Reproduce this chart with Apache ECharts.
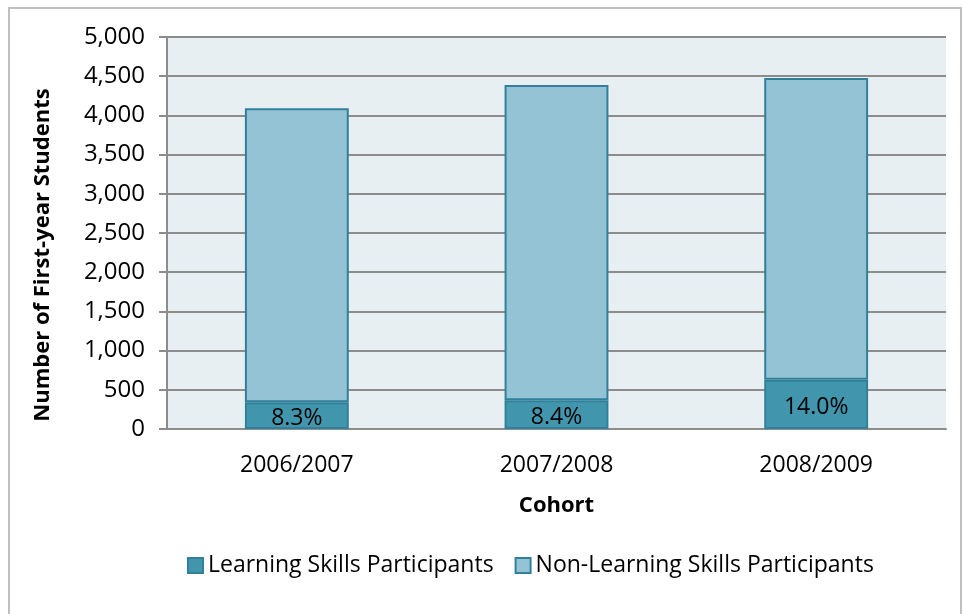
<!DOCTYPE html>
<html><head><meta charset="utf-8">
<script src="https://cdn.jsdelivr.net/npm/echarts@6/dist/echarts.min.js"></script>
<style>html,body{margin:0;padding:0;background:#fff}#c{width:965px;height:614px}
#frame{position:absolute;left:8px;top:7px;width:954px;height:620px;border:2px solid #bfbfbf;box-sizing:border-box;pointer-events:none}</style>
</head><body><div id="c"></div><div id="frame"></div>
<script>
const categories = ['2006/2007', '2007/2008', '2008/2009'];
const learningParticipants = [340, 368, 627];
const nonLearningParticipants = [3750, 4020, 3850];
const percentLabels = ['8.3%', '8.4%', '14.0%'];
const yTicks = [0, 500, 1000, 1500, 2000, 2500, 3000, 3500, 4000, 4500, 5000];
const yAxisTitle = 'Number of First-year Students';

const font = '"Open Sans", "Noto Sans", sans-serif';
const chart = echarts.init(document.getElementById('c'));
chart.setOption({
  animation: false,
  textStyle: { fontFamily: font },
  grid: { left: 167, right: 19, top: 37, bottom: 185, backgroundColor: '#e8eff3', show: true, borderWidth: 0 },
  legend: {
    bottom: 32, left: 182, itemWidth: 15, itemHeight: 15, itemGap: 21,
    icon: 'rect',
    textStyle: { fontSize: 23, color: '#000', fontFamily: font },
    data: ['Learning Skills Participants', 'Non-Learning Skills Participants']
  },
  graphic: [{
    type: 'text', x: 43, y: 255, rotation: Math.PI / 2,
    style: {
      text: yAxisTitle, fontSize: 22, fontWeight: 'bold', fill: '#000', fontFamily: font,
      align: 'center', verticalAlign: 'middle'
    }
  }],
  xAxis: {
    type: 'category', data: categories,
    name: 'Cohort', nameLocation: 'middle', nameGap: 66,
    nameTextStyle: { fontSize: 22, fontWeight: 'bold', color: '#000', fontFamily: font },
    axisLine: { lineStyle: { color: '#8c8c8c', width: 2 } },
    axisTick: { show: false },
    axisLabel: { fontSize: 23, color: '#000', margin: 25, fontFamily: font }
  },
  yAxis: {
    type: 'value', min: 0, max: 5000, interval: 500,
    axisLine: { show: true, lineStyle: { color: '#8c8c8c', width: 2 } },
    axisTick: { show: true, length: 8, lineStyle: { color: '#8c8c8c', width: 2 } },
    splitLine: { lineStyle: { color: '#8c8c8c', width: 2 } },
    axisLabel: {
      fontSize: 24, color: '#000', margin: 22, fontFamily: font,
      formatter: v => yTicks.includes(v) ? v.toLocaleString('en-US') : ''
    }
  },
  series: [
    {
      name: 'Learning Skills Participants', type: 'bar', stack: 's', barWidth: '40%',
      data: learningParticipants,
      itemStyle: { color: '#4196ad', borderColor: '#31809a', borderWidth: 2 },
      label: {
        show: true, position: 'inside', offset: [0, 3], fontSize: 23, color: '#000', fontFamily: font,
        formatter: p => percentLabels[p.dataIndex]
      }
    },
    {
      name: 'Non-Learning Skills Participants', type: 'bar', stack: 's', barWidth: '40%',
      data: nonLearningParticipants,
      itemStyle: { color: '#93c3d4', borderColor: '#31809a', borderWidth: 2 }
    }
  ]
});
</script></body></html>
